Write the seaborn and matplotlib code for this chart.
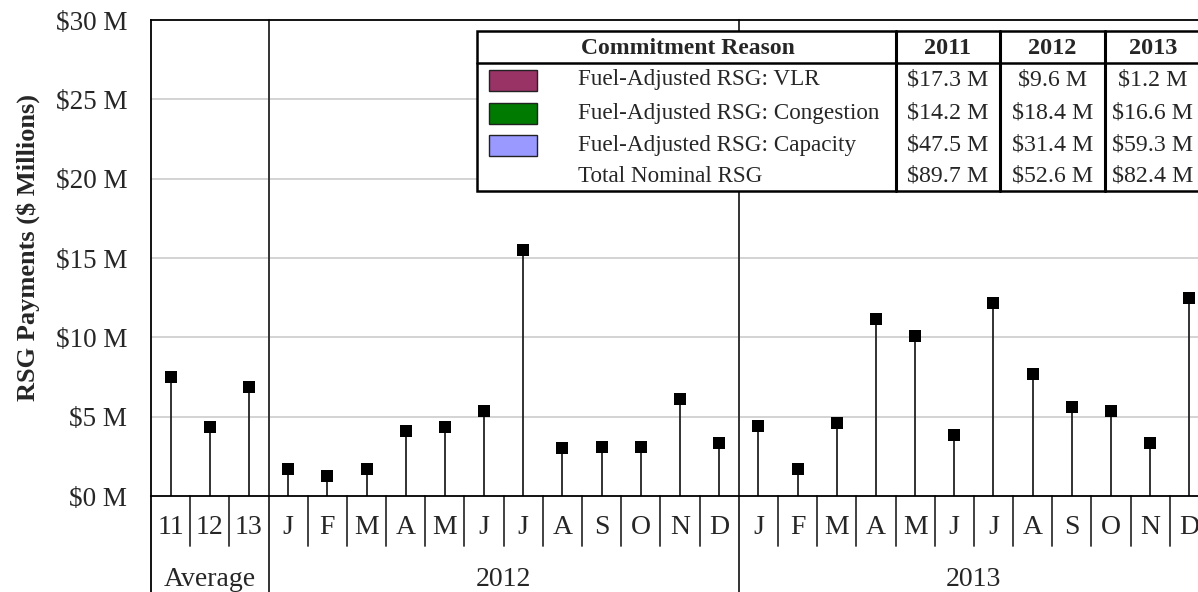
import matplotlib
matplotlib.use("Agg")
import matplotlib.pyplot as plt
import numpy as np
import pandas as pd
import seaborn as sns
from matplotlib.lines import Line2D
from matplotlib.patches import Rectangle

# ---- data ($ millions) ----
avg_labels = ["11", "12", "13"]
month_labels = ["J", "F", "M", "A", "M", "J", "J", "A", "S", "O", "N", "D"]
avg_values = [7.47, 4.38, 6.87]
values_2012 = [1.68, 1.28, 1.68, 4.11, 4.33, 5.38, 15.5, 3.0, 3.1, 3.1, 6.09, 3.36]
values_2013 = [4.41, 1.68, 4.58, 11.13, 10.08, 3.82, 12.18, 7.67, 5.59, 5.38, 3.32, 12.46]
group_names = ["Average", "2012", "2013"]
yticks = [0, 5, 10, 15, 20, 25, 30]

reasons = ["Fuel-Adjusted RSG: VLR", "Fuel-Adjusted RSG: Congestion",
           "Fuel-Adjusted RSG: Capacity", "Total Nominal RSG"]
reason_colors = ["#993366", "#007A00", "#9999FF", None]
table_years = ["2011", "2012", "2013"]
totals_2011 = [17.3, 14.2, 47.5, 89.7]
totals_2012 = [9.6, 18.4, 31.4, 52.6]
totals_2013 = [1.2, 16.6, 59.3, 82.4]

labels = avg_labels + month_labels + month_labels
values = avg_values + values_2012 + values_2013
df = pd.DataFrame({"slot": np.arange(len(values)), "label": labels, "value": values})
group_sizes = [len(avg_labels), len(values_2012), len(values_2013)]

# ---- figure ----
W, H = 1198, 592
sns.set_theme(style="white")
plt.rcParams["font.family"] = ["Liberation Serif", "DejaVu Serif"]
fig = plt.figure(figsize=(W / 100, H / 100), dpi=100)

def fx(px):
    return px / W

def fy(py):
    return 1 - py / H

ax = fig.add_axes([fx(151), fy(496), 1058 / W, 476 / H])
ax.set_xlim(-0.5, len(values) - 0.5)
ax.set_ylim(0, 30)

ax.set_yticks(yticks)
ax.set_yticklabels([f"${v} M" for v in yticks], fontsize=19.5)
ax.tick_params(axis="y", length=0, pad=17)
ax.set_xticks([])
for v in yticks[1:-1]:
    ax.axhline(v, color="#cccccc", lw=1.2, zorder=0)

for side in ["top", "bottom", "left"]:
    ax.spines[side].set_color("black")
    ax.spines[side].set_linewidth(1.3)
ax.spines["right"].set_visible(False)

# stems and square markers
ax.vlines(df["slot"], 0, df["value"], color="#222222", lw=1.3, zorder=2)
sns.scatterplot(data=df, x="slot", y="value", marker="s", color="black",
                s=68, linewidth=0, ax=ax, zorder=3, legend=False)
ax.set_xlabel("")
ax.set_ylabel("RSG Payments ($ Millions)", fontsize=19, fontweight="bold")
ax.yaxis.set_label_coords(-111 / 1058, 0.523)

# category labels and separators under the axis
bottom_ext = -96 / 476
for i, lab in enumerate(labels):
    ax.text(i, -32 / 476, lab, transform=ax.get_xaxis_transform(),
            ha="center", va="center", fontsize=20)
boundaries = np.cumsum(group_sizes)[:-1] - 0.5
for b in np.arange(0.5, len(values) - 0.5, 1.0):
    if b in boundaries:
        continue
    ax.plot([b, b], [0, -50 / 476], transform=ax.get_xaxis_transform(),
            color="#333333", lw=1.3, clip_on=False)
for b in boundaries:
    ax.plot([b, b], [bottom_ext, 1], transform=ax.get_xaxis_transform(),
            color="#333333", lw=1.4, clip_on=False, zorder=1)
ax.plot([-0.5, -0.5], [bottom_ext, 0], transform=ax.get_xaxis_transform(),
        color="black", lw=1.3, clip_on=False)

start = 0
for name, n in zip(group_names, group_sizes):
    ax.text(start + (n - 1) / 2, -84 / 476, name, transform=ax.get_xaxis_transform(),
            ha="center", va="center", fontsize=20)
    start += n

# ---- summary table ----
tl, tr, tt, tb = 477, 1201, 31, 191
col_edges = [tl, 896, 1000, 1105, tr]
header_bottom = 63
row_centers = [80, 113, 145, 176]

fig.add_artist(Rectangle((fx(tl), fy(tb)), fx(tr) - fx(tl), fy(tt) - fy(tb),
                         transform=fig.transFigure, facecolor="white",
                         edgecolor="black", lw=1.8, zorder=5))
fig.add_artist(Line2D([fx(tl), fx(tr)], [fy(header_bottom)] * 2,
                      transform=fig.transFigure, color="black", lw=1.8, zorder=6))
for xe in col_edges[1:-1]:
    fig.add_artist(Line2D([fx(xe)] * 2, [fy(tt), fy(tb)],
                          transform=fig.transFigure, color="black", lw=2.2, zorder=6))

fig.text(fx(688), fy(48), "Commitment Reason", ha="center", va="center",
         fontsize=17, fontweight="bold", zorder=7)
for k, yr in enumerate(table_years):
    cx = (col_edges[k + 1] + col_edges[k + 2]) / 2
    fig.text(fx(cx), fy(48), yr, ha="center", va="center",
             fontsize=17.5, fontweight="bold", zorder=7)

for r, (reason, col) in enumerate(zip(reasons, reason_colors)):
    yc = row_centers[r]
    if col is not None:
        fig.add_artist(Rectangle((fx(489), fy(yc + 11)), 48 / W, 21 / H,
                                 transform=fig.transFigure, facecolor=col,
                                 edgecolor="#222222", lw=1.0, zorder=7))
    fig.text(fx(578), fy(yc), reason, ha="left", va="center", fontsize=16.7, zorder=7)
    for k, series in enumerate([totals_2011, totals_2012, totals_2013]):
        cx = (col_edges[k + 1] + col_edges[k + 2]) / 2
        fig.text(fx(cx), fy(yc), f"${series[r]:.1f} M", ha="center", va="center",
                 fontsize=17.2, zorder=7)

fig.savefig("out.png", dpi=100)
